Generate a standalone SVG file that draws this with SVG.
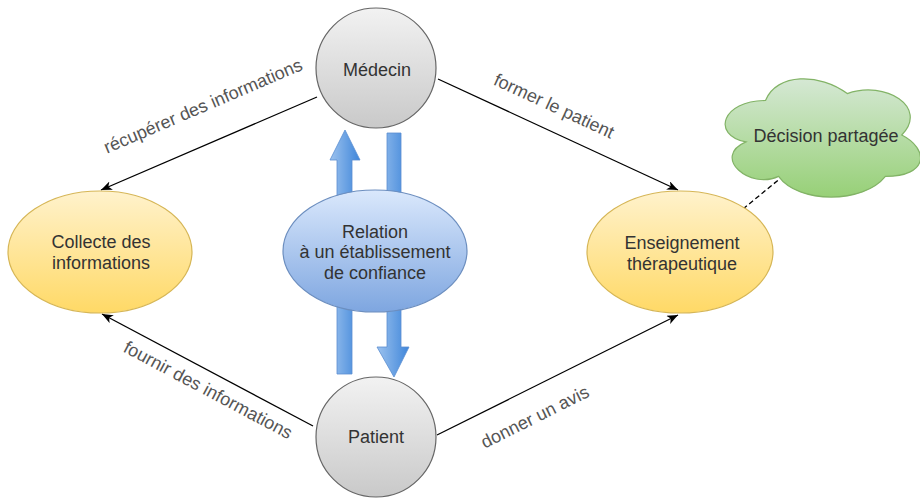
<svg xmlns="http://www.w3.org/2000/svg" width="920" height="499" viewBox="0 0 920 499">
<defs>
<linearGradient id="gGrey" x1="0" y1="0" x2="0" y2="1"><stop offset="0" stop-color="#f2f2f2"/><stop offset="1" stop-color="#c9c9c9"/></linearGradient>
<linearGradient id="gYellow" x1="0" y1="0" x2="0" y2="1"><stop offset="0" stop-color="#fff2cc"/><stop offset="1" stop-color="#ffd966"/></linearGradient>
<linearGradient id="gBlue" x1="0" y1="0" x2="0" y2="1"><stop offset="0" stop-color="#dae8fc"/><stop offset="1" stop-color="#7ea6e0"/></linearGradient>
<linearGradient id="gGreen" x1="0" y1="0" x2="0" y2="1"><stop offset="0" stop-color="#d5e8d4"/><stop offset="1" stop-color="#97d077"/></linearGradient>
<linearGradient id="gArrow" x1="0" y1="0" x2="1" y2="0"><stop offset="0" stop-color="#9cc2ee"/><stop offset="1" stop-color="#3f86da"/></linearGradient>
<marker id="arr" markerWidth="13" markerHeight="10" refX="11" refY="4.5" orient="auto" markerUnits="userSpaceOnUse">
<path d="M0,0 L11,4.5 L0,9 L3,4.5 Z" fill="#000"/>
</marker>
</defs>
<style>
.node text, .lbl { font-family: "Liberation Sans", Arial, sans-serif; font-size: 18px; text-anchor: middle; }
.node text { fill: #333333; }
.lbl { fill: #555555; }
.edge { stroke: #000; stroke-width: 1.3; fill: none; marker-end: url(#arr); }
.big { fill: url(#gArrow); stroke: #5b8ed0; stroke-width: 0.8; }
</style>

<g id="connectors">
<line class="edge" x1="317" y1="97" x2="101" y2="190"/>
<line class="edge" x1="438" y1="79" x2="678" y2="190"/>
<line class="edge" x1="313" y1="426" x2="102" y2="314"/>
<line class="edge" x1="437" y1="435" x2="678" y2="315"/>
<line x1="743" y1="209" x2="782" y2="177" stroke="#000" stroke-width="1.3" stroke-dasharray="5 3"/>
<polygon class="big" points="337,374 337,160 330,160 345,130 360,160 352,160 352,374"/>
<polygon class="big" points="387,133 401,133 401,347 409,347 394,377 377,347 387,347"/>
<text class="lbl" transform="translate(203,106) rotate(-23.2)" dominant-baseline="central">récupérer des informations</text>
<text class="lbl" transform="translate(554,106) rotate(24.8)" dominant-baseline="central">former le patient</text>
<text class="lbl" transform="translate(208,390) rotate(28)" dominant-baseline="central">fournir des informations</text>
<text class="lbl" transform="translate(535,417) rotate(-26.5)" dominant-baseline="central">donner un avis</text>
</g>

<g id="medecin" class="node">
<circle cx="376" cy="68" r="60" fill="url(#gGrey)" stroke="#666666" stroke-width="1.2"/>
<text x="377" y="76">Médecin</text>
</g>

<g id="patient" class="node">
<circle cx="376" cy="437" r="60" fill="url(#gGrey)" stroke="#666666" stroke-width="1.2"/>
<text x="376" y="443">Patient</text>
</g>

<g id="relation" class="node">
<ellipse cx="375" cy="251" rx="92" ry="61" fill="url(#gBlue)" stroke="#6c8ebf" stroke-width="1.2"/>
<text x="375" y="238">Relation</text>
<text x="375" y="258">à un établissement</text>
<text x="375" y="279">de confiance</text>
</g>

<g id="collecte" class="node">
<ellipse cx="100" cy="252" rx="92" ry="61" fill="url(#gYellow)" stroke="#d6b656" stroke-width="1.2"/>
<text x="101" y="248">Collecte des</text>
<text x="101" y="269">informations</text>
</g>

<g id="enseignement" class="node">
<ellipse cx="680" cy="252" rx="93" ry="61" fill="url(#gYellow)" stroke="#d6b656" stroke-width="1.2"/>
<text x="682" y="249">Enseignement</text>
<text x="682" y="270">thérapeutique</text>
</g>

<g id="decision" class="node">
<path d="M765.5,100.5 C721.9,100.5 711,135 745.9,141.9 C711,157.1 750.2,190.2 778.6,176.4 C798.2,204 863.6,204 885.4,176.4 C929,176.4 929,148.8 901.75,135 C929,107.4 885.4,79.8 847.25,93.6 C820,72.9 776.4,72.9 765.5,100.5 Z" fill="url(#gGreen)" stroke="#82b366" stroke-width="1.2"/>
<text x="826" y="142">Décision partagée</text>
</g>
</svg>
